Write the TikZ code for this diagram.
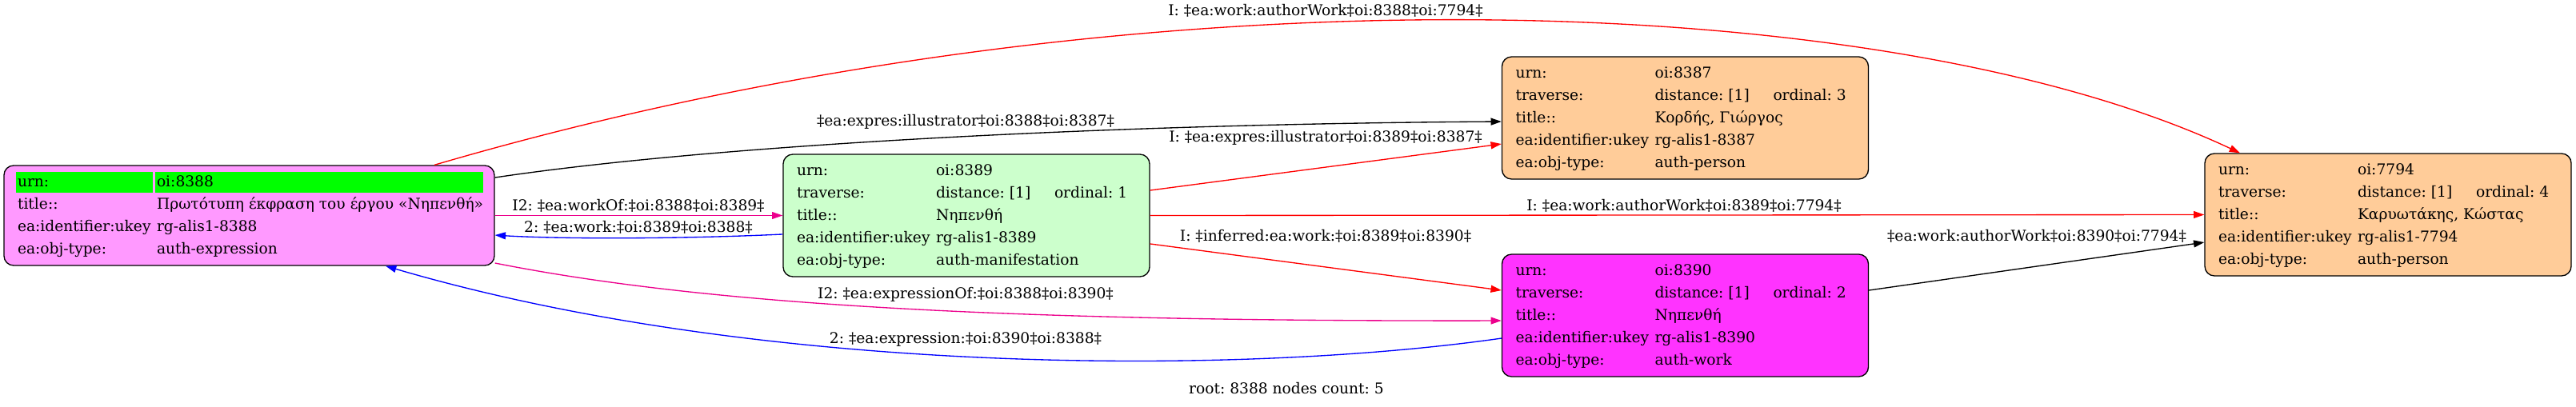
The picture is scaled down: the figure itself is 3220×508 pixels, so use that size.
\documentclass[tikz,border=0pt]{standalone}
\usepackage{fontspec}
\setmainfont{DejaVu Serif}
\usetikzlibrary{arrows.meta}
\frenchspacing

\definecolor{exprpink}{HTML}{FF99FF}
\definecolor{manifgreen}{HTML}{CCFFCC}
\definecolor{personorange}{HTML}{FFCC99}
\definecolor{workmagenta}{HTML}{FF33FF}
\definecolor{urngreen}{HTML}{00FF00}

\setlength{\fboxsep}{1.5pt}
\newcommand{\fieldrow}[3]{\makebox[130.5pt][l]{#1}\makebox[111pt][l]{#2}\makebox[76.5pt][l]{#3}\strut}
\newcommand{\rootrow}[2]{\makebox[130.5pt][l]{#1}\makebox[303.75pt][l]{#2}\strut}
\newcommand{\urncell}[2]{\kern-1.5pt\colorbox{urngreen}{\makebox[#1][l]{\rule[-4.5pt]{0pt}{16.5pt}#2}}}

\begin{document}
\begin{tikzpicture}[x=0.75pt,y=-0.75pt,font=\fontsize{14}{21}\selectfont]
\useasboundingbox (0,0) rectangle (3220,508);

\begin{scope}[every node/.style={rectangle,rounded corners=9pt,draw=black,line width=1pt,
                                 inner xsep=12.75pt,inner ysep=4.875pt,align=left}]
    \node[fill=exprpink] (8388) at (311.5,269.5) {%
        \makebox[130.5pt][l]{\urncell{125.25pt}{urn:}}\makebox[303.75pt][l]{\urncell{304.5pt}{oi:8388}}\strut\\
        \rootrow{title::}{Πρωτότυπη έκφραση του έργου «Νηπενθή»}\\
        \rootrow{ea:identifier:ukey}{rg-alis1-8388}\\
        \rootrow{ea:obj-type:}{auth-expression}};
    \node[fill=manifgreen] (8389) at (1208,269.5) {%
        \fieldrow{urn:}{oi:8389}{}\\
        \fieldrow{traverse:}{distance: [1]}{ordinal: 1}\\
        \fieldrow{title::}{Νηπενθή}{}\\
        \fieldrow{ea:identifier:ukey}{rg-alis1-8389}{}\\
        \fieldrow{ea:obj-type:}{auth-manifestation}{}};

    \node[fill=personorange] (8387) at (2106.5,147.5) {%
        \fieldrow{urn:}{oi:8387}{}\\
        \fieldrow{traverse:}{distance: [1]}{ordinal: 3}\\
        \fieldrow{title::}{Κορδής, Γιώργος}{}\\
        \fieldrow{ea:identifier:ukey}{rg-alis1-8387}{}\\
        \fieldrow{ea:obj-type:}{auth-person}{}};
    \node[fill=workmagenta] (8390) at (2106.5,394.5) {%
        \fieldrow{urn:}{oi:8390}{}\\
        \fieldrow{traverse:}{distance: [1]}{ordinal: 2}\\
        \fieldrow{title::}{Νηπενθή}{}\\
        \fieldrow{ea:identifier:ukey}{rg-alis1-8390}{}\\
        \fieldrow{ea:obj-type:}{auth-work}{}};

    \node[fill=personorange] (7794) at (2985,268.5) {%
        \fieldrow{urn:}{oi:7794}{}\\
        \fieldrow{traverse:}{distance: [1]}{ordinal: 4}\\
        \fieldrow{title::}{Καρυωτάκης, Κώστας}{}\\
        \fieldrow{ea:identifier:ukey}{rg-alis1-7794}{}\\
        \fieldrow{ea:obj-type:}{auth-person}{}};
\end{scope}

\begin{scope}[every node/.style={inner sep=0pt},line width=1pt,
              >={Triangle[length=10pt,width=6.7pt]}]
    \draw [->,red] ([xshift=173.6pt]8388.north) .. controls (1400,-45) and (2350,-20) .. ([xshift=-138.75pt]7794.north);
    \draw [->,black] ([yshift=35.6pt]8388.east) .. controls (900,180) and (1400,155) .. ([yshift=-3.4pt]8387.west);
    \draw [->,red] ([yshift=23.6pt]8389.east) -- ([yshift=-24.4pt]8387.west);
    \draw [->,magenta] (8388.east) -- (8389.west);
    \draw [->,blue] ([yshift=-17.6pt]8389.west) .. controls (850,299) and (700,299) .. ([yshift=-18.4pt]8388.east);
    \draw [->,red] (8389.east) -- (7794.west);
    \draw [->,red] ([yshift=-26.6pt]8389.east) -- ([yshift=23.6pt]8390.west);
    \draw [->,black] ([yshift=23.6pt]8390.east) -- ([yshift=-25.9pt]7794.west);
    \draw [->,magenta] ([yshift=-44.6pt]8388.east) .. controls (900,385) and (1300,402) .. ([yshift=-4.9pt]8390.west);
    \draw [->,blue] ([yshift=-21.4pt]8390.west) .. controls (1550,470) and (950,470) .. ([xshift=127.9pt]8388.south);

    \node (l1) at (1657,13) {I: ‡ea:work:authorWork‡oi:8388‡oi:7794‡};
    \node (l2) at (1207,152) {‡ea:expres:illustrator‡oi:8388‡oi:8387‡};
    \node (l3) at (1657,172) {I: ‡ea:expres:illustrator‡oi:8389‡oi:8387‡};
    \node (l4) at (798,257) {I2: ‡ea:workOf:‡oi:8388‡oi:8389‡};
    \node (l5) at (798,284) {2: ‡ea:work:‡oi:8389‡oi:8388‡};
    \node (l6) at (2105,257) {I: ‡ea:work:authorWork‡oi:8389‡oi:7794‡};
    \node (l7) at (1657,295) {I: ‡inferred:ea:work:‡oi:8389‡oi:8390‡};
    \node (l8) at (2546,295) {‡ea:work:authorWork‡oi:8390‡oi:7794‡};
    \node (l9) at (1207,368) {I2: ‡ea:expressionOf:‡oi:8388‡oi:8390‡};
    \node (l10) at (1207,425) {2: ‡ea:expression:‡oi:8390‡oi:8388‡};
    \node (caption) at (1608,486) {root: 8388 nodes count: 5};
\end{scope}
\end{tikzpicture}
\end{document}
